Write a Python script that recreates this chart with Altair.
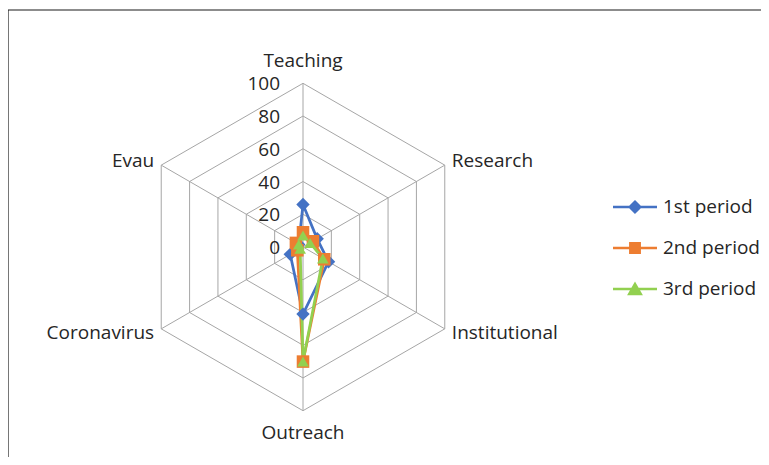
import altair as alt
import pandas as pd

# ---- data ----
categories = ["Teaching", "Research", "Institutional", "Outreach", "Coronavirus", "Evau"]
series_names = ["1st period", "2nd period", "3rd period"]
period1 = [26, 10, 18, 41, 9, 3]
period2 = [9, 7, 15, 70, 4, 5]
period3 = [7, 5, 14, 70, 2, 3]
grid_levels = [20, 40, 60, 80, 100]
tick_values = [0, 20, 40, 60, 80, 100]

colors = ["#4472C4", "#ED7D31", "#92D050"]
point_shapes = ["diamond", "square", "triangle-up"]
point_sizes = [180, 135, 200]

# legend symbols: line segment + marker
seg = "M-1,-0.06L1,-0.06L1,0.06L-1,0.06Z"
legend_paths = [
    seg + "M0,-0.32L0.32,0L0,0.32L-0.32,0Z",
    seg + "M-0.27,-0.27L0.27,-0.27L0.27,0.27L-0.27,0.27Z",
    seg + "M0,-0.34L0.36,0.28L-0.36,0.28Z",
]

FONT = "Open Sans"
TXT = "#262626"
GRID = "#A6A6A6"

# ---- layout (view 753x447, radar center at view px (295,237), 1.637 px per unit) ----
W, H = 753, 447
K = 1.637
CX, CY = 295, 237
XDOM = [-CX / K, (W - CX) / K]
YDOM = [-(H - CY) / K, CY / K]

# ---- tables ----
rows = []
for name, vals in zip(series_names, [period1, period2, period3]):
    for i in range(len(categories) + 1):
        j = i % len(categories)
        rows.append({"series": name, "idx": j, "ord": i, "value": vals[j]})
series_df = pd.DataFrame(rows)
points_df = series_df[series_df["ord"] < len(categories)]

grid_df = pd.DataFrame(
    [{"level": lv, "idx": i % 6, "ord": i} for lv in grid_levels for i in range(7)]
)
spoke_df = pd.DataFrame({"idx": list(range(6)), "value": [100] * 6})
tick_df = pd.DataFrame({"value": tick_values, "label": [str(v) for v in tick_values]})
cat_df = pd.DataFrame({"cat": categories, "idx": list(range(6))})
legend_df = pd.DataFrame({"series": series_names})
frame_df = pd.DataFrame({"k": [0]})

xs = alt.Scale(domain=XDOM, nice=False, zero=False)
ys = alt.Scale(domain=YDOM, nice=False, zero=False)

def polar(chart, rfield):
    return chart.transform_calculate(
        ang="datum.idx * PI / 3"
    ).transform_calculate(
        x=f"{rfield} * sin(datum.ang)", y=f"{rfield} * cos(datum.ang)"
    )

X = alt.X("x:Q", scale=xs, axis=None)
Y = alt.Y("y:Q", scale=ys, axis=None)

# chart-area border (left and top edges; the rest runs off the picture)
frame_left = alt.Chart(frame_df).mark_rule(color="#1a1a1a", strokeWidth=1.2).encode(
    x=alt.value(0), y=alt.value(0), y2=alt.value(H)
)
frame_top = alt.Chart(frame_df).mark_rule(color="#1a1a1a", strokeWidth=1.2).encode(
    x=alt.value(0), x2=alt.value(W), y=alt.value(0)
)

grid = polar(alt.Chart(grid_df), "datum.level").mark_line(
    color=GRID, strokeWidth=1
).encode(x=X, y=Y, detail="level:N", order="ord:Q")

spokes = polar(alt.Chart(spoke_df), "datum.value").transform_calculate(
    x0="0", y0="0"
).mark_rule(color=GRID, strokeWidth=1).encode(
    x=alt.X("x0:Q", scale=xs, axis=None), y=alt.Y("y0:Q", scale=ys, axis=None),
    x2="x:Q", y2="y:Q"
)

ticks = alt.Chart(tick_df).transform_calculate(x="0", y="datum.value").mark_text(
    align="right", baseline="middle", dx=-23, dy=1, fontSize=19, font=FONT, color=TXT
).encode(x=X, y=Y, text="label:N")

def cat_layer(filt, align, r):
    return polar(
        alt.Chart(cat_df).transform_filter(filt).transform_calculate(r=str(r)),
        "datum.r",
    ).mark_text(align=align, baseline="middle", fontSize=19, font=FONT, color=TXT).encode(
        x=X, y=Y, text="cat:N"
    )

cats_c = cat_layer("datum.idx == 0 || datum.idx == 3", "center", 113.5)
cats_r = cat_layer("datum.idx == 1 || datum.idx == 2", "left", 105)
cats_l = cat_layer("datum.idx == 4 || datum.idx == 5", "right", 105)

color_data = alt.Color("series:N", scale=alt.Scale(domain=series_names, range=colors), legend=None)

lines = polar(alt.Chart(series_df), "datum.value").mark_line(strokeWidth=2.75).encode(
    x=X, y=Y, color=color_data, order="ord:Q"
)

points = polar(alt.Chart(points_df), "datum.value").mark_point(
    filled=True, opacity=1, strokeWidth=0
).encode(
    x=X, y=Y, color=color_data,
    shape=alt.Shape("series:N", scale=alt.Scale(domain=series_names, range=point_shapes), legend=None),
    size=alt.Size("series:N", scale=alt.Scale(domain=series_names, range=point_sizes), legend=None),
)

leg = alt.Legend(
    title=None, orient="none", legendX=605, legendY=175, symbolSize=1936,
    symbolStrokeWidth=0, labelFontSize=19, labelFont=FONT, labelColor=TXT,
    labelOffset=6, rowPadding=9, padding=0,
)
legend_layer = alt.Chart(legend_df).mark_point(filled=True, opacity=1, size=1936).encode(
    x=alt.value(-400), y=alt.value(-400),
    color=alt.Color("series:N", scale=alt.Scale(domain=series_names, range=colors), legend=leg),
    shape=alt.Shape("series:N", scale=alt.Scale(domain=series_names, range=legend_paths), legend=leg),
)

chart = alt.layer(
    frame_left, frame_top, grid, spokes, ticks, cats_c, cats_r, cats_l, lines, points, legend_layer
).resolve_scale(
    color="independent", shape="independent", size="independent"
).properties(
    width=W, height=H,
    autosize=alt.AutoSizeParams(type="none"),
    padding={"left": 0, "top": 2, "right": 0, "bottom": 0},
    background="white",
).configure_view(stroke=None)

chart.save("out.html", embed_options={"renderer": "svg", "actions": False})
